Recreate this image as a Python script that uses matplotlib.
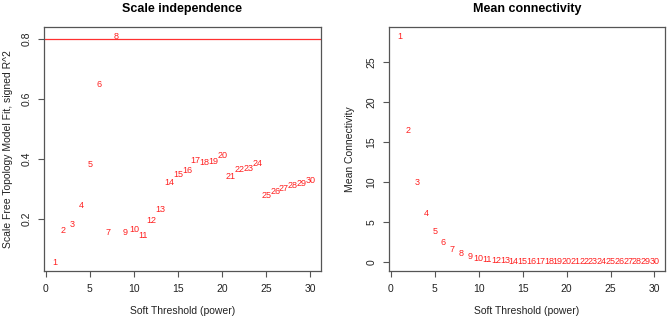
import matplotlib
matplotlib.use("Agg")
import matplotlib.pyplot as plt
import numpy as np

plt.rcParams['font.family'] = ['Liberation Sans', 'DejaVu Sans']

powers = list(range(1, 31))
# signed R^2 of scale free fit
sft_r2 = [0.056, 0.160, 0.182, 0.245, 0.382, 0.647, 0.155, 0.808, 0.155, 0.166,
          0.144, 0.193, 0.230, 0.320, 0.348, 0.360, 0.395, 0.388, 0.391, 0.412,
          0.342, 0.363, 0.368, 0.385, 0.277, 0.290, 0.302, 0.310, 0.319, 0.327]
# mean connectivity
mean_k = [28.2, 16.46, 9.9, 6.03, 3.83, 2.46, 1.58, 1.08, 0.71, 0.46,
          0.37, 0.21, 0.13, 0.10, 0.07, 0.06, 0.05, 0.04, 0.03, 0.03,
          0.02, 0.02, 0.02, 0.01, 0.01, 0.01, 0.01, 0.01, 0.01, 0.0]
cutoff = 0.8

fig = plt.figure(figsize=(6.68, 3.17), dpi=100)
ax1 = fig.add_axes([44/668, 1-271/317, (321-44)/668, (271-27)/317])
ax2 = fig.add_axes([389/668, 1-271/317, (665-389)/668, (271-27)/317])

framecol = '#555555'


def style(ax, xlim, ylim, yticks, ylab, title, ypad):
    ax.set_xlim(*xlim)
    ax.set_ylim(*ylim)
    ax.set_xticks([0, 5, 10, 15, 20, 25, 30])
    ax.set_yticks(yticks)
    ax.tick_params(direction='out', length=4, width=0.8, colors=framecol,
                   labelcolor='#222222', labelsize=7.5, pad=5)
    for lab in ax.get_yticklabels():
        lab.set_rotation(90)
        lab.set_va('center')
    for s in ax.spines.values():
        s.set_color(framecol)
        s.set_linewidth(0.9)
    ax.set_xlabel("Soft Threshold (power)", fontsize=7.5, color='#222222', labelpad=9)
    ax.set_ylabel(ylab, fontsize=7.5, color='#222222', labelpad=ypad)
    ax.set_title(title, fontsize=9, fontweight='bold', pad=11)


for p, r in zip(powers, sft_r2):
    ax1.text(p, r, str(p), color='#ff2020', fontsize=6.5, ha='center', va='center')
ax1.axhline(cutoff, color='#ff3030', lw=0.9)
style(ax1, (-0.2, 31.2), (0.026, 0.84), [0.2, 0.4, 0.6, 0.8],
      "Scale Free Topology Model Fit, signed R^2", "Scale independence", 6)
ax1.set_yticklabels(['0.2', '0.4', '0.6', '0.8'])

for p, k in zip(powers, mean_k):
    ax2.text(p, k, str(p), color='#ff2020', fontsize=6.5, ha='center', va='center')
style(ax2, (-0.2, 31.2), (-1.13, 29.4), [0, 5, 10, 15, 20, 25],
      "Mean Connectivity", "Mean connectivity", 8)

fig.savefig("out.png", dpi=100)
